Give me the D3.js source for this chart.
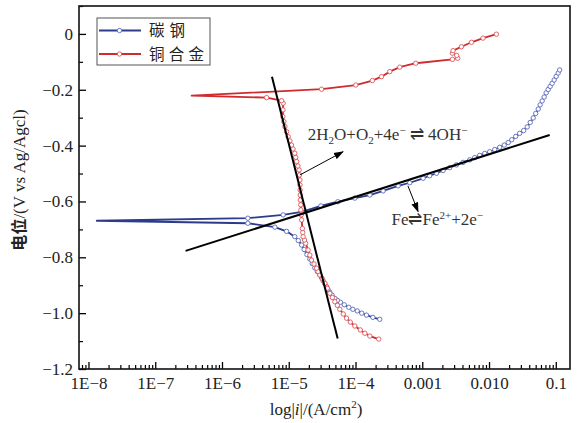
<!DOCTYPE html>
<html>
<head>
<meta charset="utf-8">
<script src="https://cdn.jsdelivr.net/npm/d3@7"></script>
<style>
  html, body { margin: 0; padding: 0; background: #fff; }
  svg { display: block; }
</style>
</head>
<body>
<svg id="chart" width="580" height="423"></svg>
<script>
// ---------- data ----------
const seriesNames = ["碳钢", "铜合金"];

// carbon steel (sweep order: cathodic end -> Ecorr -> anodic end)
const steelCurrent = [
  2.31e-4, 1.82e-4, 1.46e-4, 1.24e-4, 1.06e-4, 9.12e-5, 7.94e-5, 6.79e-5, 5.95e-5, 5.35e-5,
  4.90e-5, 4.47e-5, 4.12e-5, 3.87e-5, 3.68e-5, 3.47e-5, 3.27e-5, 3.10e-5, 2.92e-5, 2.68e-5,
  2.46e-5, 2.25e-5, 2.07e-5, 1.87e-5, 1.70e-5, 1.56e-5, 1.39e-5, 1.23e-5, 9.27e-6, 6.2e-6,
  2.44e-6, 1.33e-8,
  2.44e-6, 8.24e-6, 1.56e-5, 3.03e-5, 5.43e-5, 9.77e-5, 1.64e-4, 2.59e-4, 4.35e-4, 6.50e-4,
  1.03e-3, 1.29e-3, 1.63e-3, 2.05e-3, 2.58e-3, 3.25e-3, 4.08e-3, 5.14e-3, 6.11e-3, 7.26e-3,
  8.63e-3, 0.01023, 0.01216, 0.01445, 0.0169, 0.0194, 0.0219, 0.0251, 0.0288, 0.0330,
  0.0373, 0.0414, 0.0459, 0.0500, 0.0546, 0.0583, 0.0625, 0.0670, 0.0718, 0.0769,
  0.0824, 0.0883, 0.0946, 0.1014, 0.1086, 0.1143
];
const steelPotential = [
  -1.022, -1.015, -1.007, -1.000, -0.992, -0.986, -0.979, -0.970, -0.961, -0.954,
  -0.947, -0.936, -0.925, -0.915, -0.905, -0.894, -0.884, -0.873, -0.863, -0.851,
  -0.838, -0.822, -0.806, -0.790, -0.772, -0.756, -0.740, -0.726, -0.707, -0.692,
  -0.678, -0.669,
  -0.660, -0.648, -0.637, -0.616, -0.601, -0.588, -0.577, -0.562, -0.544, -0.533,
  -0.517, -0.508, -0.499, -0.489, -0.479, -0.469, -0.460, -0.451, -0.443, -0.435,
  -0.428, -0.422, -0.414, -0.406, -0.398, -0.389, -0.379, -0.367, -0.356, -0.346,
  -0.333, -0.317, -0.301, -0.285, -0.269, -0.254, -0.240, -0.226, -0.211, -0.199,
  -0.188, -0.177, -0.165, -0.152, -0.140, -0.129
];

// copper alloy
const alloyCurrent = [
  2.23e-4, 1.64e-4, 1.38e-4, 1.18e-4, 9.77e-5, 8.36e-5, 7.33e-5, 6.56e-5, 5.82e-5, 5.35e-5,
  4.90e-5, 4.50e-5, 4.12e-5, 3.78e-5, 3.47e-5, 3.18e-5, 2.92e-5, 2.75e-5, 2.61e-5, 2.39e-5,
  2.19e-5, 2.07e-5, 1.95e-5, 1.79e-5, 1.72e-5, 1.64e-5, 1.62e-5, 1.60e-5, 1.56e-5, 1.54e-5,
  1.52e-5, 1.51e-5, 1.49e-5, 1.485e-5, 1.48e-5, 1.475e-5, 1.47e-5, 1.45e-5, 1.43e-5, 1.37e-5,
  1.31e-5, 1.27e-5, 1.23e-5, 1.16e-5, 1.10e-5, 1.04e-5, 9.8e-6, 9.27e-6, 8.75e-6, 8.45e-6,
  8.17e-6, 8.2e-6, 8.24e-6, 7.8e-6, 4.66e-6, 3.51e-7,
  3.1e-5, 1.01e-4, 1.79e-4, 2.45e-4, 3.26e-4, 4.6e-4, 8.0e-4, 2.83e-3, 3.4e-3, 3.28e-3,
  2.83e-3, 2.89e-3, 3.86e-3, 5.46e-3, 8.13e-3, 0.0129
];
const alloyPotential = [
  -1.093, -1.082, -1.072, -1.060, -1.046, -1.032, -1.018, -1.003, -0.986, -0.972,
  -0.959, -0.944, -0.929, -0.911, -0.893, -0.877, -0.863, -0.851, -0.839, -0.824,
  -0.810, -0.792, -0.774, -0.750, -0.738, -0.726, -0.711, -0.697, -0.666, -0.648,
  -0.630, -0.612, -0.595, -0.577, -0.559, -0.541, -0.523, -0.505, -0.487, -0.473,
  -0.457, -0.442, -0.427, -0.412, -0.398, -0.383, -0.368, -0.350, -0.332, -0.314,
  -0.296, -0.272, -0.248, -0.239, -0.228, -0.221,
  -0.198, -0.183, -0.167, -0.153, -0.135, -0.119, -0.105, -0.091, -0.087, -0.077,
  -0.069, -0.060, -0.046, -0.030, -0.015, -0.001
];

// Tafel extrapolation lines [current, potential]
const tafelCathodic = [[5.6e-6, -0.153], [5.4e-5, -1.091]];
const tafelAnodic = [[2.85e-7, -0.777], [0.081, -0.362]];

// annotations
const arrowO2 = [[1.47e-5, -0.505], [6.5e-5, -0.422]];
const arrowFe = [[6.1e-4, -0.544], [8.65e-4, -0.636]];
const labelO2Pos = [1.93e-5, -0.380];
const labelFePos = [3.46e-4, -0.684];

// ticks
const xTicks = [1e-8, 1e-7, 1e-6, 1e-5, 1e-4, 1e-3, 1e-2, 1e-1];
const xTickLabels = ["1E\u22128", "1E\u22127", "1E\u22126", "1E\u22125", "1E\u22124", "0.001", "0.010", "0.1"];
const yTicks = [0, -0.2, -0.4, -0.6, -0.8, -1.0, -1.2];
const yTickLabels = ["0", "\u22120.2", "\u22120.4", "\u22120.6", "\u22120.8", "\u22121.0", "\u22121.2"];
const yMinorTicks = [0.1, -0.1, -0.3, -0.5, -0.7, -0.9, -1.1];

// ---------- layout ----------
const W = 580, H = 423;
const plot = { left: 79, right: 570, top: 6, bottom: 369 };
const blue = "#2c3b8c", blueMk = "#5a69b8";
const red = "#cf2a2e", redMk = "#e0555a";
const serif = "'Liberation Serif', 'Times New Roman', serif";
const cjk = "'Noto Sans CJK SC', sans-serif";

const svg = d3.select("#chart");

const x = d3.scaleLog().domain([7.21e-9, 0.1633]).range([plot.left, plot.right]);
const y = d3.scaleLinear().domain([-1.2, 0.1]).range([plot.bottom, plot.top]);

// arrow marker
svg.append("defs").append("marker")
  .attr("id", "arrowhead")
  .attr("markerUnits", "userSpaceOnUse")
  .attr("markerWidth", 10).attr("markerHeight", 8)
  .attr("refX", 9).attr("refY", 4)
  .attr("orient", "auto")
  .append("path").attr("d", "M0,0.5 L10,4 L0,7.5 Z").attr("fill", "#000");

// ---------- axes ----------
const xMinor = [];
for (let e = -9; e <= -1; e++) for (let m = 2; m <= 9; m++) {
  const v = m * Math.pow(10, e);
  if (v > x.domain()[0] && v < x.domain()[1]) xMinor.push(v);
}
svg.append("g").attr("transform", `translate(0,${plot.bottom})`)
  .call(d3.axisBottom(x).tickValues(xMinor).tickSize(-4).tickFormat(""))
  .call(g => g.select(".domain").remove())
  .selectAll("line").attr("stroke", "#000").attr("stroke-width", 1.2);

const xAxis = svg.append("g").attr("transform", `translate(0,${plot.bottom})`)
  .call(d3.axisBottom(x).tickValues(xTicks).tickSize(-7).tickPadding(8)
    .tickFormat((d, i) => xTickLabels[i]));
xAxis.select(".domain").remove();
xAxis.selectAll("line").attr("stroke", "#000").attr("stroke-width", 1.3);
xAxis.selectAll("text").attr("font-family", serif).attr("font-size", 17).attr("fill", "#222");

svg.append("g").attr("transform", `translate(${plot.left},0)`)
  .call(d3.axisLeft(y).tickValues(yMinorTicks).tickSize(-4).tickFormat(""))
  .call(g => g.select(".domain").remove())
  .selectAll("line").attr("stroke", "#000").attr("stroke-width", 1.2);

const yAxis = svg.append("g").attr("transform", `translate(${plot.left},0)`)
  .call(d3.axisLeft(y).tickValues(yTicks).tickSize(-7).tickPadding(6)
    .tickFormat((d, i) => yTickLabels[i]));
yAxis.select(".domain").remove();
yAxis.selectAll("line").attr("stroke", "#000").attr("stroke-width", 1.3);
yAxis.selectAll("text").attr("font-family", serif).attr("font-size", 17).attr("fill", "#222");

// frame
svg.append("rect")
  .attr("x", plot.left).attr("y", plot.top)
  .attr("width", plot.right - plot.left).attr("height", plot.bottom - plot.top)
  .attr("fill", "none").attr("stroke", "#111").attr("stroke-width", 1.6);

// ---------- axis titles ----------
const xt = svg.append("text")
  .attr("x", 316).attr("y", 415).attr("text-anchor", "middle")
  .attr("font-family", serif).attr("font-size", 17).attr("fill", "#222");
xt.append("tspan").text("log|");
xt.append("tspan").attr("font-style", "italic").text("i");
xt.append("tspan").text("|/(A/cm");
xt.append("tspan").attr("font-size", 11).attr("dy", -7).text("2");
xt.append("tspan").attr("dy", 7).text(")");

const yt = svg.append("text")
  .attr("transform", "translate(25,180) rotate(-90)")
  .attr("text-anchor", "middle").attr("fill", "#222");
yt.append("tspan").attr("font-family", cjk).attr("font-weight", "bold").attr("font-size", 16).text("电位");
yt.append("tspan").attr("font-family", serif).attr("font-size", 17).text("/(V vs Ag/Agcl)");

// ---------- series ----------
const line = d3.line().x(d => x(d[0])).y(d => y(d[1]));
const series = [
  { name: seriesNames[0], data: d3.zip(steelCurrent, steelPotential), color: blue, mk: blueMk },
  { name: seriesNames[1], data: d3.zip(alloyCurrent, alloyPotential), color: red, mk: redMk }
];

svg.append("defs").append("clipPath").attr("id", "plotclip")
  .append("rect").attr("x", plot.left).attr("y", plot.top)
  .attr("width", plot.right - plot.left).attr("height", plot.bottom - plot.top);

const gSeries = svg.append("g").attr("clip-path", "url(#plotclip)");
series.forEach(s => {
  gSeries.append("path").attr("d", line(s.data))
    .attr("fill", "none").attr("stroke", s.color).attr("stroke-width", 1.8)
    .attr("stroke-linejoin", "round");
});
series.forEach(s => {
  const turn = d3.minIndex(s.data, d => d[0]);
  gSeries.append("g").selectAll("circle")
    .data(s.data.filter((d, i) => i !== turn))
    .join("circle")
    .attr("cx", d => x(d[0])).attr("cy", d => y(d[1])).attr("r", 2.2)
    .attr("fill", "#fff").attr("stroke", s.mk).attr("stroke-width", 0.9);
});

// Tafel lines
[tafelCathodic, tafelAnodic].forEach(t => {
  svg.append("path").attr("d", line(t))
    .attr("fill", "none").attr("stroke", "#000").attr("stroke-width", 2);
});

// arrows
[arrowO2, arrowFe].forEach(a => {
  svg.append("line")
    .attr("x1", x(a[0][0])).attr("y1", y(a[0][1]))
    .attr("x2", x(a[1][0])).attr("y2", y(a[1][1]))
    .attr("stroke", "#000").attr("stroke-width", 1)
    .attr("marker-end", "url(#arrowhead)");
});

// reaction labels
const t1 = svg.append("text").attr("x", x(labelO2Pos[0])).attr("y", y(labelO2Pos[1]))
  .attr("font-family", serif).attr("font-size", 17).attr("fill", "#333");
t1.append("tspan").text("2H");
t1.append("tspan").attr("font-size", 11).attr("dy", 4).text("2");
t1.append("tspan").attr("dy", -4).text("O+O");
t1.append("tspan").attr("font-size", 11).attr("dy", 4).text("2");
t1.append("tspan").attr("dy", -4).text("+4e");
t1.append("tspan").attr("font-size", 11).attr("dy", -6).text("\u2212");
t1.append("tspan").attr("dy", 6).text(" \u21CC 4OH");
t1.append("tspan").attr("font-size", 11).attr("dy", -6).text("\u2212");

const t2 = svg.append("text").attr("x", x(labelFePos[0])).attr("y", y(labelFePos[1]))
  .attr("font-family", serif).attr("font-size", 17).attr("fill", "#333");
t2.append("tspan").text("Fe\u21CCFe");
t2.append("tspan").attr("font-size", 11).attr("dy", -6).text("2+");
t2.append("tspan").attr("dy", 6).text("+2e");
t2.append("tspan").attr("font-size", 11).attr("dy", -6).text("\u2212");

// ---------- legend ----------
const lg = svg.append("g");
lg.append("rect").attr("x", 97).attr("y", 18).attr("width", 113).attr("height", 47)
  .attr("fill", "#fff").attr("stroke", "#555").attr("stroke-width", 1);
series.forEach((s, i) => {
  const cy = 30.5 + i * 23.5;
  lg.append("line").attr("x1", 99).attr("x2", 141).attr("y1", cy).attr("y2", cy)
    .attr("stroke", s.color).attr("stroke-width", 1.8);
  lg.append("circle").attr("cx", 119.5).attr("cy", cy).attr("r", 2.2)
    .attr("fill", "#fff").attr("stroke", s.mk).attr("stroke-width", 0.9);
  lg.append("text").attr("x", 149).attr("y", cy).attr("dy", "0.36em")
    .attr("font-family", cjk).attr("font-size", 15.5).attr("fill", "#222")
    .attr("textLength", i === 0 ? 36 : 55).attr("lengthAdjust", "spacing")
    .text(s.name);
});
</script>
</body>
</html>
